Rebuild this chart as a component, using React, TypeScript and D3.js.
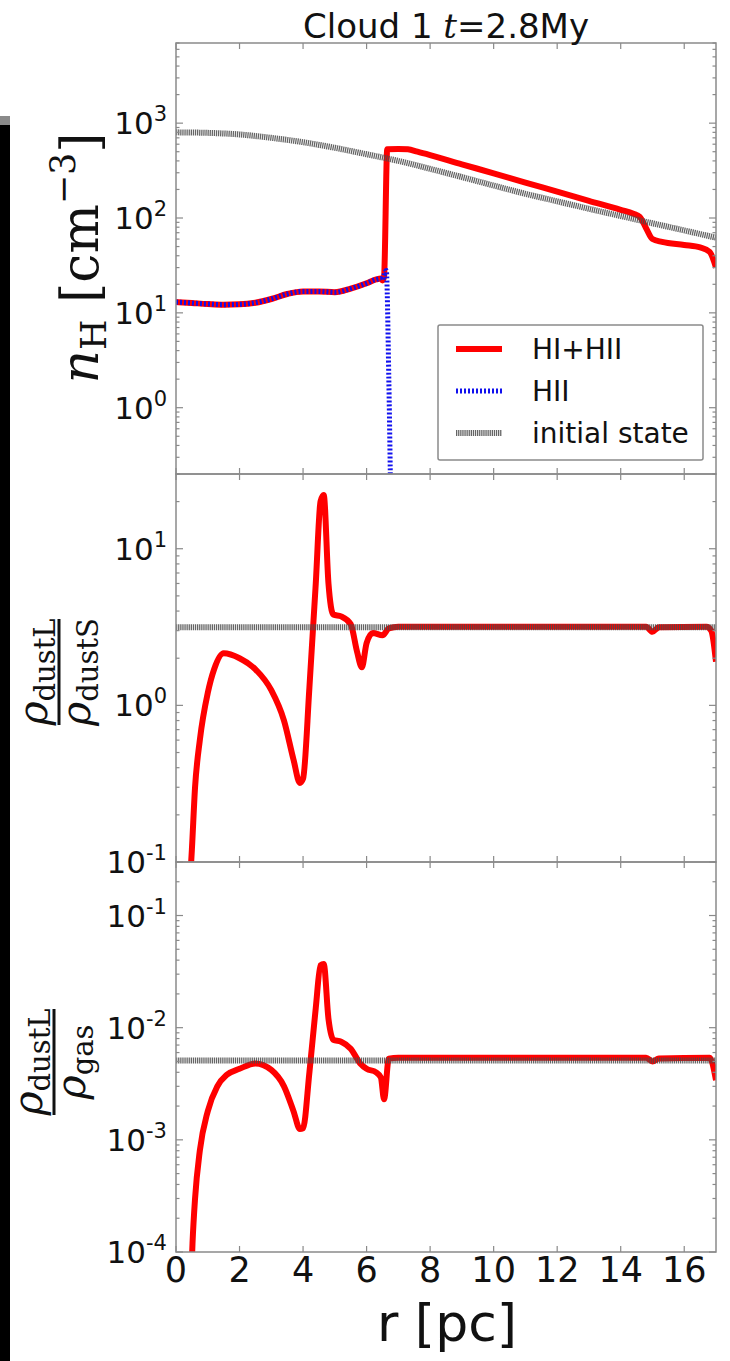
import React, { useEffect, useRef } from "react";
import * as d3 from "d3";

const W = 730;
const H = 1361;

// ---- data (r in pc) ----
// top panel: n_H [cm^-3]
const totR = [0, 0.5, 1, 1.5, 2, 2.5, 3, 3.5, 4, 4.5, 5, 5.5, 6, 6.3, 6.45, 6.5, 6.55, 6.65, 7.0, 7.3, 7.6, 8, 9, 10, 11, 12, 13, 14, 14.4, 14.6, 14.8, 15.0, 15.3, 16, 16.5, 16.8, 17];
const totV = [13, 12.7, 12.4, 12.2, 12.3, 12.8, 14, 15.8, 16.8, 16.8, 16.5, 18, 20.5, 22.5, 23, 22, 24, 530, 535, 530, 500, 460, 368, 296, 236, 190, 152, 122, 111, 103, 78, 60, 56, 52, 49, 44, 30];
const hiiR = [0, 0.5, 1, 1.5, 2, 2.5, 3, 3.5, 4, 4.5, 5, 5.5, 6, 6.3, 6.45, 6.5, 6.55, 6.62, 6.7, 6.78];
const hiiV = [13, 12.7, 12.4, 12.2, 12.3, 12.8, 14, 15.8, 16.8, 16.8, 16.5, 18, 20.5, 22.5, 23, 22, 25, 28, 2, 0.03];
const initR = [0, 1, 2, 3, 4, 5, 6, 7, 8, 9, 10, 11, 12, 13, 14, 15, 16, 17];
const initV = [800, 790, 760, 700, 630, 550, 470, 400, 330, 270, 220, 180, 150, 125, 105, 88, 74, 62];

// middle panel: rho_dustL / rho_dustS
const ratR = [0.45, 0.5, 0.6, 0.75, 1.0, 1.2, 1.5, 2.0, 2.5, 3.0, 3.4, 3.7, 3.9, 4.0, 4.2, 4.4, 4.55, 4.65, 4.8, 4.95, 5.2, 5.5, 5.7, 5.85, 6.0, 6.2, 6.5, 6.7, 7.0, 14.8, 15.0, 15.2, 16.7, 16.85, 17];
const ratV = [0.08, 0.12, 0.3, 0.6, 1.2, 1.7, 2.15, 2.0, 1.7, 1.25, 0.8, 0.45, 0.32, 0.34, 1.3, 6, 20, 22, 6, 3.8, 3.7, 3.3, 2.2, 1.75, 2.5, 2.9, 2.8, 3.1, 3.18, 3.18, 2.95, 3.15, 3.18, 3.0, 1.9];
const ratInit = 3.15;

// bottom panel: rho_dustL / rho_gas
const dgR = [0.47, 0.52, 0.6, 0.75, 1.0, 1.3, 1.6, 2.0, 2.5, 3.0, 3.4, 3.7, 3.9, 4.0, 4.2, 4.4, 4.55, 4.65, 4.8, 4.95, 5.2, 5.5, 5.8, 6.0, 6.3, 6.45, 6.55, 6.7, 7.0, 14.8, 15.0, 15.2, 16.8, 17];
const dgV = [5e-5, 1.2e-4, 3e-4, 8e-4, 1.8e-3, 3e-3, 3.8e-3, 4.3e-3, 4.8e-3, 4.2e-3, 3.0e-3, 1.8e-3, 1.25e-3, 1.27e-3, 4e-3, 1.5e-2, 3.6e-2, 3.7e-2, 1.2e-2, 7.8e-3, 7.5e-3, 6.5e-3, 4.8e-3, 4.3e-3, 4.0e-3, 3.6e-3, 2.3e-3, 5.3e-3, 5.4e-3, 5.4e-3, 5.0e-3, 5.3e-3, 5.4e-3, 3.4e-3];
const dgInit = 0.0051;

const xTicks = [0, 2, 4, 6, 8, 10, 12, 14, 16];
const topTicks = [1, 10, 100, 1000];
const topTickExp = ["0", "1", "2", "3"];
const midTicks = [0.1, 1, 10];
const midTickExp = ["-1", "0", "1"];
const botTicks = [1e-4, 1e-3, 1e-2, 1e-1];
const botTickExp = ["-4", "-3", "-2", "-1"];

const legendNames = ["HI+HII", "HII", "initial state"];

const X0 = 176;
const X1 = 716;
const RED = "#ff0000";
const BLUE = "#1010ee";
const GRAY = "#4a4a4a";
const AX = "#8a8a8a";

const App = () => {
  const svgRef = useRef<SVGSVGElement | null>(null);

  useEffect(() => {
    const svg = d3.select(svgRef.current);
    svg.selectAll("*").remove();

    svg.append("rect").attr("width", W).attr("height", H).attr("fill", "#fff");

    // black strip on the left edge of the figure
    svg.append("rect").attr("x", 0).attr("y", 116).attr("width", 10).attr("height", 9).attr("fill", "#8a8a8a");
    svg.append("rect").attr("x", 0).attr("y", 125).attr("width", 10).attr("height", H - 125).attr("fill", "#000");

    const x = d3.scaleLinear().domain([0, 17]).range([X0, X1]);

    const panels = [
      { top: 43, bottom: 474, domain: [0.2, 7000], ticks: topTicks, exps: topTickExp },
      { top: 474, bottom: 862, domain: [0.1, 30], ticks: midTicks, exps: midTickExp },
      { top: 862, bottom: 1252, domain: [1e-4, 0.3], ticks: botTicks, exps: botTickExp },
    ];

    const scales = panels.map((p) =>
      d3.scaleLog().domain(p.domain).range([p.bottom, p.top])
    );

    const defs = svg.append("defs");
    panels.forEach((p, i) => {
      defs.append("clipPath").attr("id", `clip${i}`)
        .append("rect")
        .attr("x", X0).attr("y", p.top)
        .attr("width", X1 - X0).attr("height", p.bottom - p.top);
    });

    const applyStyle = (sel: any, style: string) => {
      if (style === "red") {
        sel.attr("stroke", RED).attr("stroke-width", 6);
      } else if (style === "blue") {
        sel.attr("stroke", BLUE).attr("stroke-width", 5).attr("stroke-dasharray", "2,2");
      } else {
        sel.attr("stroke", GRAY).attr("stroke-width", 6)
          .attr("stroke-dasharray", "1.3,0.8").attr("stroke-opacity", 0.85);
      }
    };

    const drawLine = (i: number, rs: number[], vs: number[], style: string) => {
      const y = scales[i];
      const pts = rs.map((r, k) => [r, vs[k]] as [number, number]);
      const line = d3.line<[number, number]>()
        .x((d) => x(d[0]))
        .y((d) => y(d[1]))
        .curve(d3.curveMonotoneX);
      const path = svg.append("path")
        .attr("clip-path", `url(#clip${i})`)
        .attr("d", line(pts))
        .attr("fill", "none")
        .attr("stroke-linejoin", "round");
      applyStyle(path, style);
    };

    // curves
    drawLine(0, totR, totV, "red");
    drawLine(0, hiiR, hiiV, "blue");
    drawLine(0, initR, initV, "gray");

    drawLine(1, ratR, ratV, "red");
    drawLine(1, [0, 17], [ratInit, ratInit], "gray");

    drawLine(2, dgR, dgV, "red");
    drawLine(2, [0, 17], [dgInit, dgInit], "gray");

    // frames, ticks, tick labels
    panels.forEach((p, i) => {
      const y = scales[i];
      const g = svg.append("g");

      g.append("rect")
        .attr("x", X0).attr("y", p.top)
        .attr("width", X1 - X0).attr("height", p.bottom - p.top)
        .attr("fill", "none").attr("stroke", AX).attr("stroke-width", 1.5);

      // x ticks, inside, top and bottom
      xTicks.forEach((t) => {
        g.append("line").attr("x1", x(t)).attr("x2", x(t))
          .attr("y1", p.bottom).attr("y2", p.bottom - 6)
          .attr("stroke", AX).attr("stroke-width", 1.2);
        g.append("line").attr("x1", x(t)).attr("x2", x(t))
          .attr("y1", p.top).attr("y2", p.top + 6)
          .attr("stroke", AX).attr("stroke-width", 1.2);
      });

      // y ticks: major + minor, left and right
      const [lo, hi] = p.domain;
      for (let e = Math.floor(Math.log10(lo)); e <= Math.ceil(Math.log10(hi)); e++) {
        for (let m = 1; m <= 9; m++) {
          const v = m * Math.pow(10, e);
          if (v < lo * 0.999 || v > hi * 1.001) continue;
          const len = m === 1 ? 7 : 3.5;
          g.append("line").attr("x1", X0).attr("x2", X0 + len)
            .attr("y1", y(v)).attr("y2", y(v))
            .attr("stroke", AX).attr("stroke-width", 1.2);
          g.append("line").attr("x1", X1).attr("x2", X1 - len)
            .attr("y1", y(v)).attr("y2", y(v))
            .attr("stroke", AX).attr("stroke-width", 1.2);
        }
      }

      p.ticks.forEach((t, k) => {
        const txt = g.append("text")
          .attr("x", X0 - 9)
          .attr("y", y(t) + 11)
          .attr("text-anchor", "end")
          .attr("font-family", "DejaVu Sans")
          .attr("font-size", 31)
          .attr("fill", "#111");
        txt.append("tspan").text("10");
        txt.append("tspan").attr("dy", -13).attr("font-size", 21).text(p.exps[k]);
      });
    });

    // x tick labels under the bottom panel
    xTicks.forEach((t) => {
      svg.append("text")
        .attr("x", x(t)).attr("y", 1282)
        .attr("text-anchor", "middle")
        .attr("font-family", "DejaVu Sans")
        .attr("font-size", 35)
        .attr("fill", "#111")
        .text(String(t));
    });

    // x label
    svg.append("text")
      .attr("x", 447).attr("y", 1341)
      .attr("text-anchor", "middle")
      .attr("font-family", "DejaVu Sans")
      .attr("font-size", 52)
      .attr("fill", "#111")
      .text("r [pc]");

    // title
    const title = svg.append("text")
      .attr("x", 446).attr("y", 38)
      .attr("text-anchor", "middle")
      .attr("font-family", "DejaVu Sans")
      .attr("font-size", 34)
      .attr("fill", "#111");
    title.append("tspan").text("Cloud 1 ");
    title.append("tspan").attr("font-family", "DejaVu Serif").attr("font-style", "italic").text("t");
    title.append("tspan").text("=2.8My");

    // y label, top panel: n_H [cm^-3]
    const yl = svg.append("text")
      .attr("transform", "translate(98,258) rotate(-90)")
      .attr("text-anchor", "middle")
      .attr("font-family", "DejaVu Serif")
      .attr("font-size", 52)
      .attr("fill", "#111");
    yl.append("tspan").attr("font-style", "italic").text("n");
    yl.append("tspan").attr("font-size", 35).attr("dy", 8).text("H");
    yl.append("tspan").attr("dy", -8).text(" [cm");
    yl.append("tspan").attr("font-size", 35).attr("dy", -23).text("\u22123");
    yl.append("tspan").attr("dy", 23).text("]");

    // fraction labels for the dust panels
    const fracLabel = (cx: number, cy: number, num: string, den: string, barLen: number) => {
      const g = svg.append("g").attr("transform", `translate(${cx},${cy}) rotate(-90)`);
      const n = g.append("text").attr("text-anchor", "middle").attr("y", -12)
        .attr("font-family", "DejaVu Serif").attr("font-size", 41).attr("fill", "#111");
      n.append("tspan").attr("font-style", "italic").text("\u03c1");
      n.append("tspan").attr("font-size", 29).attr("dy", 8).text(num);
      g.append("line").attr("x1", -barLen / 2).attr("x2", barLen / 2)
        .attr("y1", 0).attr("y2", 0).attr("stroke", "#111").attr("stroke-width", 3);
      const d = g.append("text").attr("text-anchor", "middle").attr("y", 31)
        .attr("font-family", "DejaVu Serif").attr("font-size", 41).attr("fill", "#111");
      d.append("tspan").attr("font-style", "italic").text("\u03c1");
      d.append("tspan").attr("font-size", 29).attr("dy", 8).text(den);
    };
    fracLabel(59, 672, "dustL", "dustS", 106);
    fracLabel(54, 1062, "dustL", "gas", 106);

    // legend
    const lg = svg.append("g");
    lg.append("rect")
      .attr("x", 438).attr("y", 325).attr("width", 265).attr("height", 135)
      .attr("rx", 2)
      .attr("fill", "#fff").attr("stroke", AX).attr("stroke-width", 1.5);
    const styles = ["red", "blue", "gray"];
    legendNames.forEach((name, k) => {
      const yy = 349 + k * 42;
      const l = lg.append("line")
        .attr("x1", 456).attr("x2", 502).attr("y1", yy).attr("y2", yy)
        .attr("fill", "none");
      applyStyle(l, styles[k]);
      lg.append("text")
        .attr("x", 532).attr("y", yy + 10)
        .attr("font-family", "DejaVu Sans")
        .attr("font-size", 28)
        .attr("fill", "#111")
        .text(name);
    });
  }, []);

  return (
    <svg
      ref={svgRef}
      width={W}
      height={H}
      style={{ position: "absolute", left: 0, top: 0 }}
    />
  );
};

export default App;
